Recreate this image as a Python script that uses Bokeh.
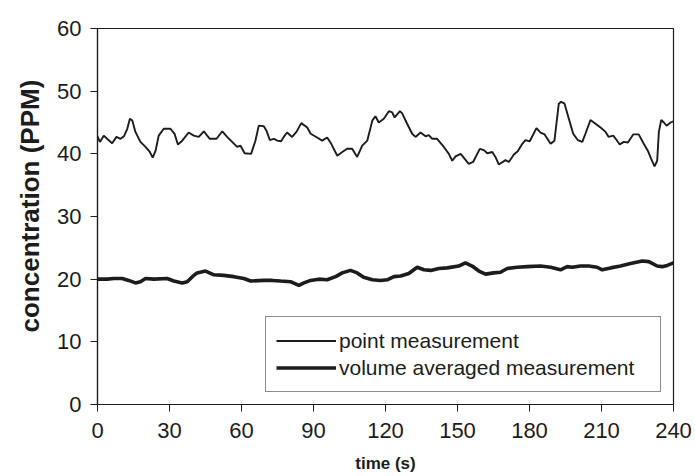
from bokeh.plotting import figure
from bokeh.models import Legend, LegendItem, Range1d, FixedTicker, Title
from bokeh.embed import file_html
from bokeh.resources import INLINE

# point measurement (time s, concentration PPM)
time_point = [0, 1.0, 2.6, 4.0, 6.1, 7.9, 9.6, 11.0, 12.4, 13.5, 14.5, 15.8, 17.9, 20.0, 21.8, 23.0,
              24.2, 25.5, 27.6, 30.4, 32.1, 33.5, 35.3, 38.0, 40.1, 42.2, 44.3, 45.7, 46.8, 49.6,
              52.0, 54.0, 56.1, 58.2, 59.6, 61.3, 64.0, 65.8, 67.2, 69.3, 70.4, 71.8, 73.5, 74.9,
              76.5, 77.6, 79.0, 81.1, 82.9, 84.9, 87.4, 88.8, 91.5, 93.6, 95.7, 97.4, 99.9, 102.0,
              104.0, 106.1, 108.2, 110.3, 112.4, 114.5, 115.8, 117.2, 119.3, 121.4, 122.8, 123.8,
              126.0, 126.9, 129.0, 131.1, 132.5, 134.6, 136.7, 138.0, 139.5, 141.5, 144.3, 146.4,
              147.8, 149.2, 151.3, 154.7, 156.5, 159.3, 161.0, 162.4, 164.5, 165.8, 167.2, 170.0,
              171.4, 173.5, 175.1, 177.0, 178.3, 180.1, 182.9, 184.6, 186.3, 188.8, 190.4, 192.2,
              193.2, 194.6, 196.4, 198.2, 200.1, 202.0, 203.3, 205.4, 207.5, 209.6, 211.7, 213.0,
              214.9, 216.3, 217.6, 219.3, 221.0, 223.2, 225.5, 227.6, 229.3, 230.7, 232.1, 233.2,
              233.9, 234.9, 236.0, 237.1, 238.8, 240.0]
conc_point = [42.8, 41.9, 42.9, 42.4, 41.7, 42.7, 42.4, 42.8, 44.0, 45.6, 45.3, 43.5, 41.9, 41.1, 40.3, 39.4,
              40.5, 42.9, 44.0, 44.0, 43.2, 41.5, 42.1, 43.4, 42.9, 42.7, 43.6, 42.9, 42.4, 42.4,
              43.6, 42.7, 41.9, 41.1, 41.3, 40.1, 40.0, 42.1, 44.5, 44.4, 43.7, 42.2, 42.4, 42.1,
              42.0, 42.7, 43.4, 42.7, 43.5, 44.9, 44.2, 43.2, 42.6, 42.1, 42.6, 41.6, 39.7, 40.3,
              40.8, 40.8, 39.5, 41.3, 42.1, 45.3, 46.0, 45.0, 45.6, 46.8, 46.6, 45.8,
              46.8, 46.5, 44.8, 43.2, 42.7, 43.4, 42.8, 43.0, 42.4, 42.4, 41.1, 40.0,
              38.9, 39.6, 40.0, 38.4, 38.7, 40.8, 40.6, 40.1, 40.3, 39.5, 38.3, 39.0,
              38.7, 39.9, 40.4, 41.6, 42.2, 42.0, 44.1, 43.4, 43.1, 41.6, 42.1, 48.0,
              48.3, 48.0, 45.6, 43.2, 42.2, 41.9, 43.2, 45.4, 44.8, 44.2, 43.5, 42.7,
              42.9, 42.2, 41.5, 41.9, 41.8, 43.1, 43.1, 41.6, 40.5, 39.2, 38.0, 38.9,
              43.5, 45.4, 45.0, 44.5, 45.0, 45.2]

# volume averaged measurement
time_volume = [0, 4.0, 6.8, 10.3, 13.0, 15.8, 17.9, 20.0, 23.5, 29.0, 31.8, 35.3, 37.4, 39.5, 41.5,
               45.0, 48.5, 52.6, 56.8, 61.0, 63.8, 69.3, 72.8, 76.3, 80.4, 83.9, 86.0, 88.8, 92.2,
               95.7, 99.2, 102.0, 105.4, 108.2, 110.9, 114.5, 117.9, 120.7, 123.5, 126.3, 129.7,
               133.2, 136.0, 138.8, 142.2, 145.7, 150.5, 153.3, 156.1, 158.9, 161.7, 165.1, 167.9,
               170.7, 174.9, 179.0, 184.6, 188.8, 192.9, 195.7, 197.8, 201.3, 204.7, 208.2, 210.3,
               213.8, 217.9, 222.1, 227.0, 229.7, 233.2, 235.3, 237.4, 240.0]
conc_volume = [20.0, 20.0, 20.1, 20.1, 19.8, 19.4, 19.6, 20.1, 20.0, 20.1, 19.7, 19.4, 19.6, 20.4, 21.0,
               21.3, 20.7, 20.6, 20.4, 20.1, 19.7, 19.8, 19.8, 19.7, 19.6, 19.0, 19.4, 19.8, 20.0,
               19.9, 20.4, 21.0, 21.4, 21.0, 20.3, 19.9, 19.8, 19.9, 20.4, 20.5, 20.9,
               21.9, 21.5, 21.4, 21.7, 21.8, 22.1, 22.6, 22.1, 21.3, 20.8, 21.0, 21.1,
               21.7, 21.9, 22.0, 22.1, 21.9, 21.5, 22.0, 21.9, 22.1, 22.1, 21.9, 21.5,
               21.8, 22.1, 22.5, 22.9, 22.8, 22.1, 22.0, 22.2, 22.6]

x_ticks = [0, 30, 60, 90, 120, 150, 180, 210, 240]
y_ticks = [0, 10, 20, 30, 40, 50, 60]
series_labels = ["point measurement", "volume averaged measurement"]

FONT = "Liberation Sans"
INK = "#1c1c1c"

p = figure(width=695, height=476, output_backend="svg", toolbar_location=None,
           x_range=Range1d(0, 240), y_range=Range1d(0, 60),
           min_border_left=97, min_border_right=22, min_border_top=28, min_border_bottom=72,
           background_fill_color="white", border_fill_color="white")

p.xgrid.visible = False
p.ygrid.visible = False
p.outline_line_color = INK
p.outline_line_width = 1.2

r1 = p.line(time_point, conc_point, line_color=INK, line_width=1.9)
r2 = p.line(time_volume, conc_volume, line_color=INK, line_width=3.6)

for ax in (p.xaxis[0], p.yaxis[0]):
    ax.axis_line_color = INK
    ax.axis_line_width = 1.2
    ax.major_tick_line_color = INK
    ax.major_tick_in = 0
    ax.major_tick_out = 7
    ax.minor_tick_line_color = None
    ax.major_label_text_font = FONT
    ax.major_label_text_font_size = "22px"
    ax.major_label_text_color = INK
    ax.axis_label_text_font = FONT
    ax.axis_label_text_font_style = "bold"
    ax.axis_label_text_color = INK

p.xaxis.ticker = FixedTicker(ticks=x_ticks)
p.yaxis.ticker = FixedTicker(ticks=y_ticks)
p.xaxis.axis_label = "time (s)"
p.xaxis.axis_label_text_font_size = "17px"
p.xaxis.major_label_standoff = 11
p.yaxis.major_label_standoff = 9
p.xaxis.axis_label_standoff = 13

# vertical axis title, placed like the reference (starts above the frame bottom)
ytitle = Title(text="concentration (PPM)", align="left", offset=72,
               text_font=FONT, text_font_size="26px", text_font_style="bold",
               text_color=INK, standoff=20)
p.add_layout(ytitle, "left")

legend = Legend(items=[LegendItem(label=series_labels[0], renderers=[r1]),
                       LegendItem(label=series_labels[1], renderers=[r2])],
                location=(168, 12))
legend.border_line_color = INK
legend.border_line_width = 1
legend.background_fill_color = "white"
legend.background_fill_alpha = 1
legend.label_text_font = FONT
legend.label_text_font_size = "21px"
legend.label_text_color = INK
legend.padding = 10
legend.spacing = 0
legend.margin = 0
legend.glyph_height = 27
legend.glyph_width = 60
legend.label_standoff = 3
legend.label_width = 311
p.add_layout(legend)

open("out.html", "w").write(file_html(p, INLINE))
